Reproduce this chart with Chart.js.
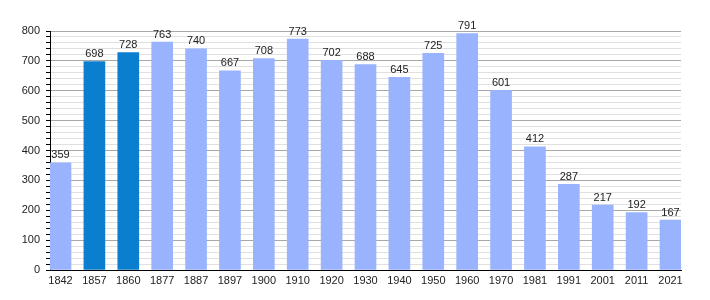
<!DOCTYPE html>
<html>
<head>
<meta charset="utf-8">
<script src="https://cdn.jsdelivr.net/npm/chart.js@4"></script>
<style>
  html, body { margin: 0; padding: 0; background: #fff; }
  canvas { display: block; }
</style>
</head>
<body>
<canvas id="chart" width="710" height="300"></canvas>
<script>
const years = ["1842", "1857", "1860", "1877", "1887", "1897", "1900", "1910", "1920", "1930",
  "1940", "1950", "1960", "1970", "1981", "1991", "2001", "2011", "2021"];
const population = [359, 698, 728, 763, 740, 667, 708, 773, 702, 688,
  645, 725, 791, 601, 412, 287, 217, 192, 167];
const highlighted = ["1857", "1860"];

const light = "#99b3ff";
const dark = "#0a7fd0";

// value labels above each bar
const valueLabels = {
  id: "valueLabels",
  afterDatasetsDraw(chart) {
    const ctx = chart.ctx;
    const meta = chart.getDatasetMeta(0);
    ctx.save();
    ctx.font = "11px 'Liberation Sans', Arial, sans-serif";
    ctx.fillStyle = "#222";
    ctx.textAlign = "center";
    ctx.textBaseline = "bottom";
    meta.data.forEach((bar, i) => {
      ctx.fillText(String(population[i]), bar.x, bar.y - 2);
    });
    ctx.restore();
  }
};

new Chart(document.getElementById("chart"), {
  type: "bar",
  data: {
    datasets: [{
      data: population.map((v, i) => ({ x: i, y: v })),
      backgroundColor: years.map(y => highlighted.includes(y) ? dark : light),
      barThickness: 21,
      borderWidth: 0
    }]
  },
  options: {
    responsive: false,
    animation: false,
    layout: { padding: { top: 31, right: 29, left: 0, bottom: 0 } },
    plugins: { legend: { display: false }, tooltip: { enabled: false } },
    scales: {
      x: {
        type: "linear",
        min: -0.31,
        max: 18.31,
        offset: false,
        afterBuildTicks: (scale) => {
          scale.ticks = years.map((y, i) => ({ value: i }));
        },
        afterFit: (scale) => { scale.height = 30; },
        grid: { display: false, drawTicks: false },
        border: { display: true, color: "#000", width: 1 },
        ticks: {
          autoSkip: false,
          maxRotation: 0,
          padding: 4,
          color: "#222",
          font: { family: "'Liberation Sans', Arial, sans-serif", size: 11 },
          callback: (v) => years[v] ?? ""
        }
      },
      y: {
        min: 0,
        max: 800,
        afterFit: (scale) => { scale.width = 50; },
        ticks: {
          stepSize: 20,
          autoSkip: false,
          padding: 6,
          color: "#222",
          font: { family: "'Liberation Sans', Arial, sans-serif", size: 11 },
          callback: (v) => v % 100 === 0 ? String(v) : ""
        },
        grid: {
          color: (c) => c.tick && c.tick.value % 100 === 0 ? "#a8a8a8" : "#e0e0e0",
          tickColor: "#000",
          tickLength: 4,
          lineWidth: 1
        },
        border: { display: true, color: "#000", width: 1 }
      }
    }
  },
  plugins: [valueLabels]
});
</script>
</body>
</html>
